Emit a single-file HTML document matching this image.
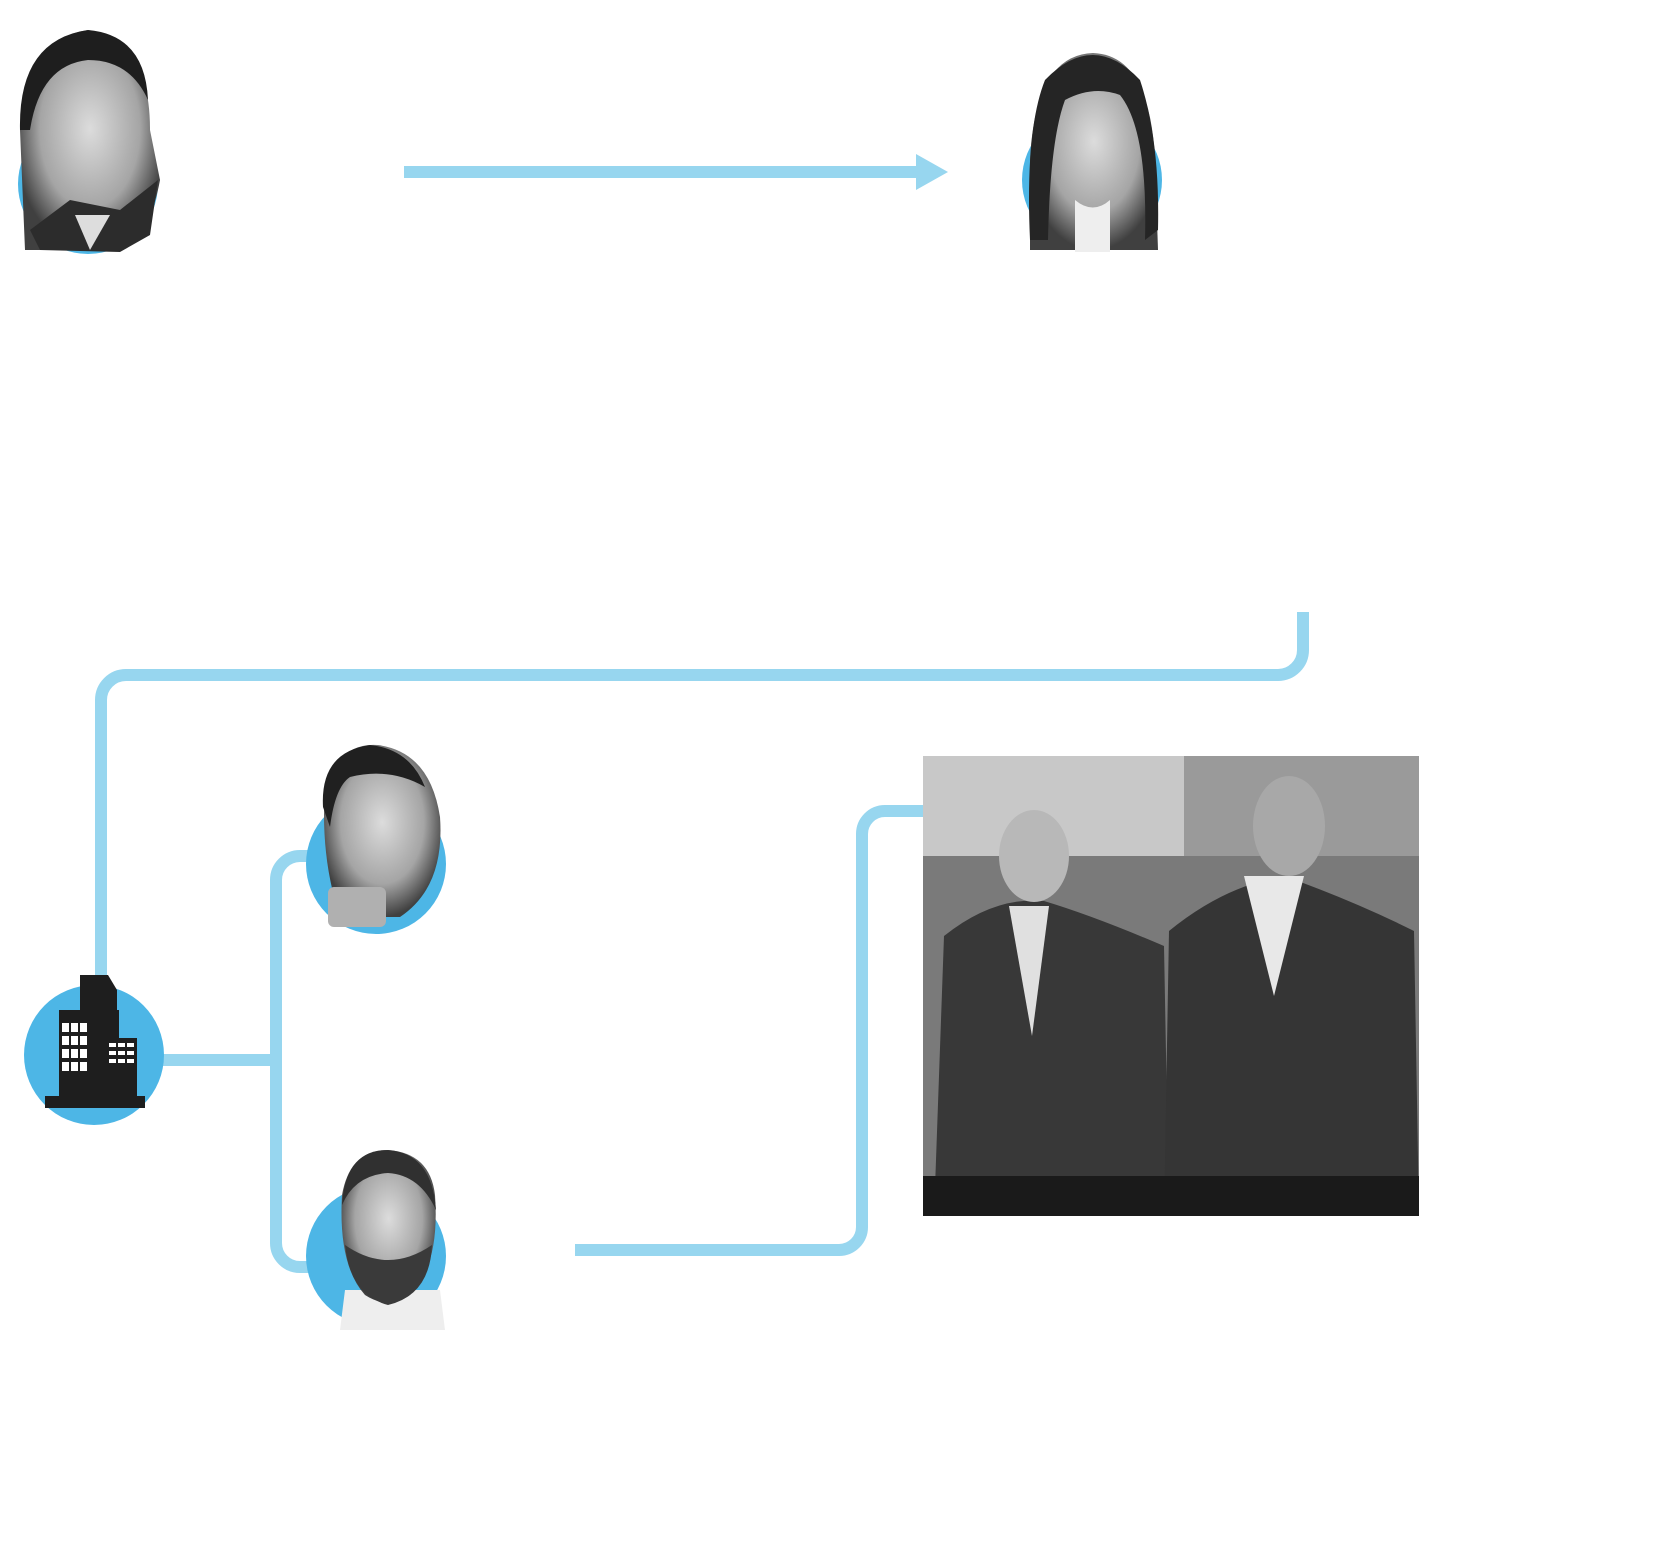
<!DOCTYPE html>
<html><head><meta charset="utf-8"><style>
html,body{margin:0;padding:0;background:#fff;}
svg{display:block;}
</style></head><body>
<svg width="1660" height="1558" viewBox="0 0 1660 1558" xmlns="http://www.w3.org/2000/svg">
<defs>
<radialGradient id="face" cx="0.5" cy="0.45" r="0.55"><stop offset="0" stop-color="#dcdcdc"/><stop offset="0.65" stop-color="#a5a5a5"/><stop offset="1" stop-color="#404040"/></radialGradient>
</defs>
<g fill="none" stroke="#97d6ef" stroke-width="12">
<line x1="404" y1="172" x2="920" y2="172"/>
<path d="M1303 612 V650 a25 25 0 0 1 -25 25 H126 a25 25 0 0 0 -25 25 V979"/>
<line x1="160" y1="1060" x2="276" y2="1060"/>
<path d="M309 856 H300 a24 24 0 0 0 -24 24 V1243 a24 24 0 0 0 24 24 H309"/>
<path d="M575 1250 H839 a23 23 0 0 0 23 -23 V834 a23 23 0 0 1 23 -23 H923"/>
</g>
<polygon points="916,154 948,172 916,190" fill="#97d6ef"/>
<!-- top left person -->
<circle cx="88" cy="184" r="70" fill="#4db6e6"/>
<path d="M25 250 L20 130 Q22 40 88 30 Q150 40 150 130 L160 180 Q150 235 120 250Z" fill="url(#face)"/>
<path d="M20 130 Q18 40 88 30 Q145 35 148 100 Q130 60 88 60 Q40 65 30 130Z" fill="#1e1e1e"/>
<path d="M30 230 L70 200 L120 210 L158 180 L150 235 L120 252 L40 250Z" fill="#2c2c2c"/>
<path d="M75 215 L90 250 L110 215Z" fill="#ddd"/>
<!-- woman -->
<circle cx="1092" cy="180" r="70" fill="#4db6e6"/>
<path d="M1030 250 L1030 160 Q1035 55 1093 53 Q1150 55 1155 160 L1158 250Z" fill="url(#face)"/>
<path d="M1030 240 Q1025 130 1045 80 Q1093 30 1140 80 Q1160 140 1158 230 L1145 240 Q1148 130 1120 95 Q1093 85 1065 100 Q1050 140 1048 240Z" fill="#252525"/>
<path d="M1075 200 Q1093 215 1110 200 L1110 252 L1075 252Z" fill="#eee"/>
<!-- man1 -->
<circle cx="376" cy="864" r="70" fill="#4db6e6"/>
<path d="M325 787 Q340 742 378 745 Q430 752 440 817 Q445 887 400 917 L340 917 Q320 857 325 787Z" fill="url(#face)"/>
<path d="M323 807 Q320 752 370 745 Q410 749 425 787 Q390 767 350 777 Q335 787 330 827Z" fill="#202020"/>
<rect x="328" y="887" width="58" height="40" rx="6" fill="#b0b0b0"/>
<!-- building -->
<circle cx="94" cy="1055" r="70" fill="#4db6e6"/>
<g fill="#1e1e1e">
<rect x="59" y="1010" width="60" height="92"/>
<path d="M80 975 H108 L117 990 V1102 H80Z"/>
<rect x="107" y="1038" width="30" height="64"/>
<rect x="45" y="1096" width="100" height="12"/>
</g>
<g fill="#fff">
<rect x="62" y="1023" width="7" height="9"/><rect x="71" y="1023" width="7" height="9"/><rect x="80" y="1023" width="7" height="9"/>
<rect x="62" y="1036" width="7" height="9"/><rect x="71" y="1036" width="7" height="9"/><rect x="80" y="1036" width="7" height="9"/>
<rect x="62" y="1049" width="7" height="9"/><rect x="71" y="1049" width="7" height="9"/><rect x="80" y="1049" width="7" height="9"/>
<rect x="62" y="1062" width="7" height="9"/><rect x="71" y="1062" width="7" height="9"/><rect x="80" y="1062" width="7" height="9"/>
<rect x="109" y="1043" width="7" height="4"/><rect x="118" y="1043" width="7" height="4"/><rect x="127" y="1043" width="7" height="4"/>
<rect x="109" y="1051" width="7" height="4"/><rect x="118" y="1051" width="7" height="4"/><rect x="127" y="1051" width="7" height="4"/>
<rect x="109" y="1059" width="7" height="4"/><rect x="118" y="1059" width="7" height="4"/><rect x="127" y="1059" width="7" height="4"/>
</g>
<!-- man2 -->
<circle cx="376" cy="1256" r="70" fill="#4db6e6"/>
<path d="M340 1330 L345 1290 L440 1290 L445 1330Z" fill="#eee"/>
<path d="M342 1195 Q350 1150 388 1150 Q430 1153 435 1195 Q440 1265 410 1295 Q388 1310 365 1295 Q338 1265 342 1195Z" fill="url(#face)"/>
<path d="M342 1205 Q345 1150 388 1150 Q432 1153 436 1210 Q420 1175 388 1173 Q355 1175 342 1205Z" fill="#303030"/>
<path d="M345 1245 Q388 1275 432 1245 Q430 1295 388 1305 Q350 1295 345 1245Z" fill="#3a3a3a"/>
<!-- photo -->
<rect x="923" y="756" width="496" height="460" fill="#7a7a7a"/>
<rect x="923" y="756" width="496" height="100" fill="#c8c8c8"/>
<rect x="1184" y="756" width="235" height="100" fill="#9a9a9a"/>
<path d="M934 1216 L944 936 Q994 896 1044 901 Q1094 916 1164 946 L1169 1216Z" fill="#383838"/>
<path d="M1164 1216 L1169 931 Q1224 886 1284 876 Q1354 901 1414 931 L1419 1216Z" fill="#353535"/>
<rect x="923" y="1176" width="496" height="40" fill="#1a1a1a"/>
<path d="M1009 906 L1032 1036 L1049 906Z" fill="#e0e0e0"/>
<path d="M1244 876 L1274 996 L1304 876Z" fill="#e8e8e8"/>
<ellipse cx="1034" cy="856" rx="35" ry="46" fill="#b8b8b8"/>
<ellipse cx="1289" cy="826" rx="36" ry="50" fill="#a8a8a8"/>
</svg>
</body></html>
